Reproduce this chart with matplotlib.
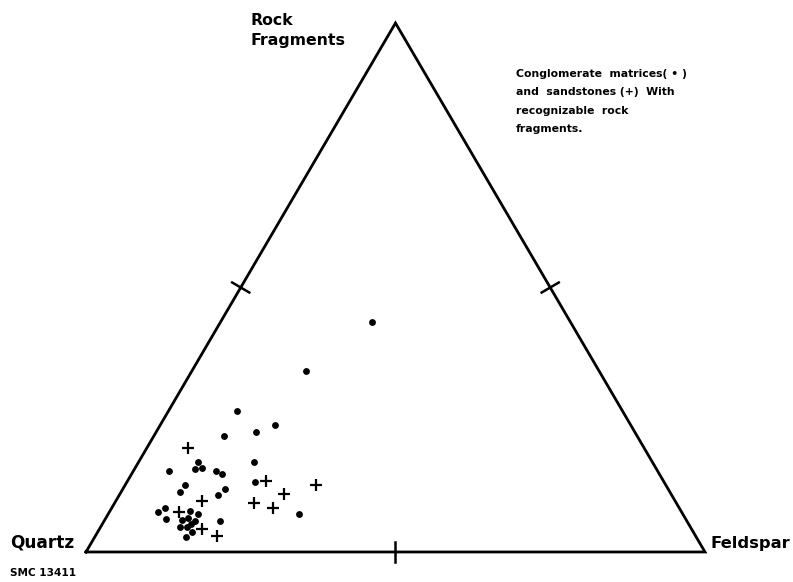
import matplotlib
matplotlib.use("Agg")
import matplotlib.pyplot as plt
import numpy as np

# Ternary data (percent Feldspar, percent Rock Fragments; Quartz = remainder)
dots_feldspar = [24.5, 18.4, 11.0, 18.5, 11.3, 16.1, 9.6, 5.8, 9.7, 10.8, 13.3, 14.6,
                 18.6, 9.7, 9.6, 16.4, 15.9, 20.7, 30.9, 7.9, 8.6, 9.8, 12.9, 14.6,
                 12.5, 13.2, 14.7, 12.8, 13.9, 14.3, 15.2, 14.7, 18.8]
dots_rock = [43.5, 34.3, 26.7, 24.0, 21.9, 22.6, 17.1, 15.3, 15.7, 15.9, 15.4, 14.7,
             17.0, 12.6, 11.3, 12.0, 10.8, 13.2, 7.1, 7.5, 8.4, 6.2, 7.8, 7.1,
             6.0, 6.5, 5.9, 4.7, 4.8, 5.2, 3.8, 2.9, 5.8]
cross_feldspar = [6.7, 13.9, 11.3, 16.6, 19.6, 22.5, 22.4, 26.5, 30.8, 26.1]
cross_rock = [19.6, 9.6, 7.6, 4.3, 3.0, 9.3, 13.4, 10.9, 12.7, 8.3]

vertex_labels = ["Quartz", "Feldspar", "Rock\nFragments"]
note_text = ("Conglomerate  matrices( • )\nand  sandstones (+)  With\n"
             "recognizable  rock\nfragments.")
id_text = "SMC 13411"

H = 0.8546  # triangle height factor


def tern(f, r):
    f = np.asarray(f, float)
    r = np.asarray(r, float)
    return f + r / 2.0, r * H


W, Hpx = 793, 582
fig = plt.figure(figsize=(W / 100, Hpx / 100), dpi=100)
ax = fig.add_axes([0, 0, 1, 1])
ax.set_xlim(-13.89, 114.22)
ax.set_ylim(-4.85, 89.18)
ax.axis("off")

# triangle
vx, vy = tern([0, 100, 0, 0], [0, 0, 100, 0])
ax.plot(vx, vy, color="black", lw=2.0, solid_joinstyle="miter", zorder=2)

# midpoint ticks
corners = list(zip(*tern([0, 100, 0], [0, 0, 100])))
half = 1.6
for i in range(3):
    a = np.array(corners[i]); b = np.array(corners[(i + 1) % 3])
    m = (a + b) / 2
    d = (b - a) / np.linalg.norm(b - a)
    n = np.array([-d[1], d[0]])
    p1, p2 = m - n * half, m + n * half
    ax.plot([p1[0], p2[0]], [p1[1], p2[1]], color="black", lw=1.8, zorder=2)

# points
dx, dy = tern(dots_feldspar, dots_rock)
ax.plot(dx, dy, "o", color="black", ms=3.9, mec="black", zorder=3)
cx, cy = tern(cross_feldspar, cross_rock)
ax.plot(cx, cy, "+", color="black", ms=9, mew=1.6, zorder=3)

fam = ["DejaVu Sans"]


def ftext(px, py, s, **kw):
    fig.text(px / W, 1 - py / Hpx, s, family=fam, fontweight="bold", color="black", **kw)


ftext(250, 45, vertex_labels[2], fontsize=11.3, ha="left", va="baseline", linespacing=1.4)
ftext(10, 547, vertex_labels[0], fontsize=12.2, ha="left", va="baseline")
ftext(711, 548, vertex_labels[1], fontsize=11.8, ha="left", va="baseline")
ftext(10, 576, id_text, fontsize=7.6, ha="left", va="baseline")
ftext(516, 69, note_text, fontsize=7.8, ha="left", va="top", linespacing=2.05)

fig.savefig("out.png", dpi=100, facecolor="white")
